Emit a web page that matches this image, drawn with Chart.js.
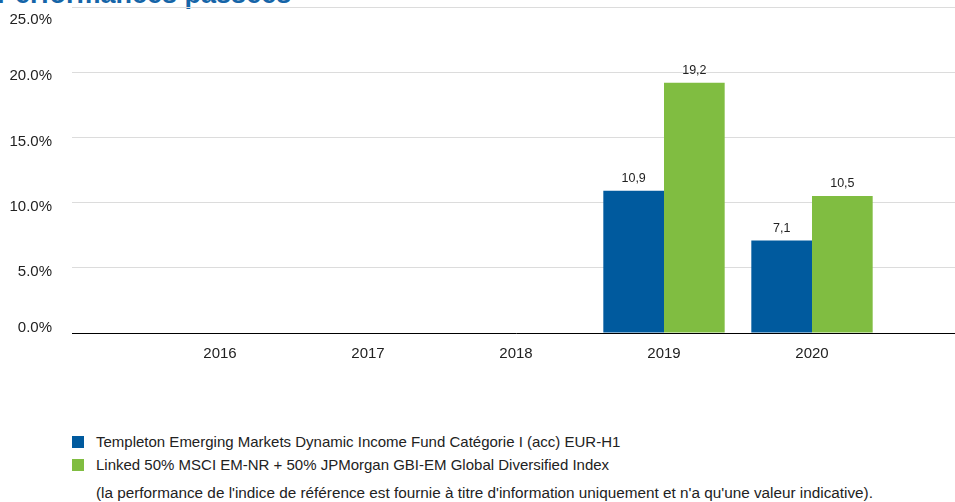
<!DOCTYPE html>
<html>
<head>
<meta charset="utf-8">
<script src="https://cdn.jsdelivr.net/npm/chart.js@4/dist/chart.umd.min.js"></script>
<style>
  html, body { margin: 0; padding: 0; background: #fff; overflow: hidden; }
  body { width: 955px; height: 502px; position: relative; font-family: "Liberation Sans", Arial, sans-serif; color: #222; }
  #title { position: absolute; left: -3px; top: -19px; font-size: 27px; line-height: 27px; font-weight: bold; color: #1565a8; white-space: nowrap; }
  #chart { position: absolute; left: 0; top: 0; }
  #legend { position: absolute; left: 72px; top: 430px; font-size: 15px; }
  .item { height: 23px; line-height: 23px; white-space: nowrap; }
  .box { display: inline-block; width: 12px; height: 12px; margin-right: 12px; vertical-align: -1px; }
  #note { position: absolute; left: 96px; top: 483px; font-size: 15.3px; line-height: 20px; white-space: nowrap; }
</style>
</head>
<body>
<div id="title">Performances passées</div>
<canvas id="chart" width="960" height="405"></canvas>
<div id="legend"></div>
<div id="note">(la performance de l'indice de référence est fournie à titre d'information uniquement et n'a qu'une valeur indicative).</div>
<script>
const years = [2016, 2017, 2018, 2019, 2020];
const fundValues = [null, null, null, 10.9, 7.1];
const indexValues = [null, null, null, 19.2, 10.5];
const seriesNames = [
  'Templeton Emerging Markets Dynamic Income Fund Catégorie I (acc) EUR-H1',
  'Linked 50% MSCI EM-NR + 50% JPMorgan GBI-EM Global Diversified Index'
];
const seriesColours = ['#005a9e', '#80bd41'];

const fontFamily = '"Liberation Sans", Arial, sans-serif';

// value above each bar, French decimal comma
const valueLabels = {
  id: 'valueLabels',
  afterDatasetsDraw(chart) {
    const ctx = chart.ctx;
    ctx.save();
    ctx.font = '12.5px ' + fontFamily;
    ctx.fillStyle = '#222';
    ctx.textAlign = 'center';
    ctx.textBaseline = 'bottom';
    chart.data.datasets.forEach((ds, i) => {
      chart.getDatasetMeta(i).data.forEach((bar, j) => {
        const v = ds.data[j];
        if (v === null) return;
        ctx.fillText(v.toFixed(1).replace('.', ','), bar.x, bar.y - 6);
      });
    });
    ctx.restore();
  }
};

const canvas = document.getElementById('chart');
const chart = new Chart(canvas, {
  type: 'bar',
  data: {
    labels: years,
    datasets: [
      { label: seriesNames[0], data: fundValues, backgroundColor: seriesColours[0] },
      { label: seriesNames[1], data: indexValues, backgroundColor: seriesColours[1] }
    ]
  },
  options: {
    responsive: false,
    animation: false,
    devicePixelRatio: 1,
    categoryPercentage: 0.82,
    barPercentage: 1,
    layout: { padding: 0 },
    plugins: {
      legend: { display: false },
      tooltip: { enabled: false }
    },
    scales: {
      x: {
        type: 'linear',
        offset: false,
        min: years[0] - 1,
        max: years[years.length - 1] + 1,
        afterBuildTicks: (scale) => {
          scale.ticks = years.map(y => ({ value: y }));
        },
        afterFit: (scale) => { scale.height = 41; },
        grid: { display: false, drawTicks: false },
        border: { color: '#000', width: 1 },
        ticks: {
          padding: 12,
          color: '#222',
          font: { family: fontFamily, size: 15 },
          callback: (v) => String(v)
        }
      },
      y: {
        min: 0,
        max: 25,
        afterFit: (scale) => { scale.width = 72; },
        grid: { color: '#dcdcdc', drawTicks: false },
        border: { display: false },
        ticks: {
          stepSize: 5,
          padding: 20,
          labelOffset: 4,
          color: '#222',
          font: { family: fontFamily, size: 15 },
          callback: (v) => {
            const s = v.toFixed(1) + '%';
            if (v === 25) return ['', s];
            if (v === 0) return [s, ''];
            return s;
          }
        }
      }
    }
  },
  plugins: [valueLabels]
});

// pull the canvas up so the top gridline sits just under the cut-off title
canvas.style.top = (7 - chart.chartArea.top) + 'px';

const legend = document.getElementById('legend');
seriesNames.forEach((name, i) => {
  const row = document.createElement('div');
  row.className = 'item';
  const box = document.createElement('span');
  box.className = 'box';
  box.style.background = seriesColours[i];
  row.appendChild(box);
  row.appendChild(document.createTextNode(name));
  legend.appendChild(row);
});
</script>
</body>
</html>
